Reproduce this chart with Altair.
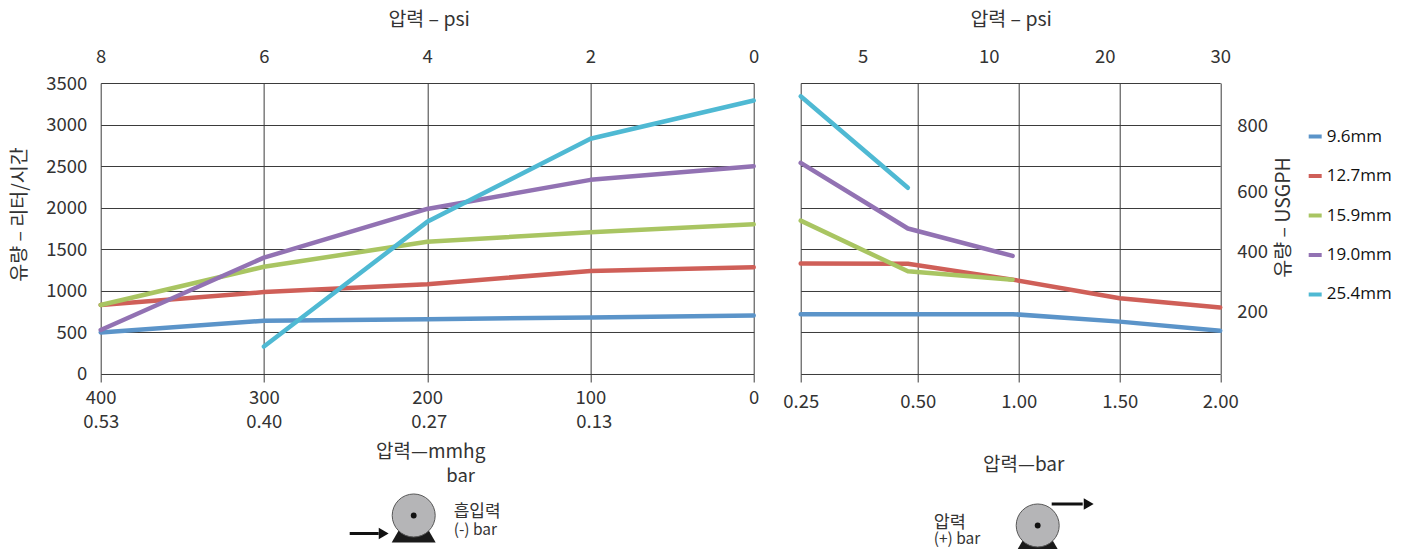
import altair as alt
import pandas as pd

FONT = "Noto Sans CJK KR"
LEG_FONT = "Open Sans"
INK = "#333333"
GRID = "#3a3a3a"

series = ["9.6mm", "12.7mm", "15.9mm", "19.0mm", "25.4mm"]
colors = ["#5b94c9", "#cf5f58", "#a9c562", "#9272b3", "#4fb9d3"]

# left panel: vacuum (mmHg) vs flow (litres/hour)
mmhg = [400, 300, 200, 100, 0]
left_flow = {
    "9.6mm": [500, 640, 660, 680, 705],
    "12.7mm": [830, 985, 1080, 1240, 1285],
    "15.9mm": [830, 1290, 1590, 1705, 1800],
    "19.0mm": [530, 1400, 1985, 2335, 2500],
    "25.4mm": [None, 330, 1830, 2830, 3290],
}
# right panel: pressure (bar) vs flow
bar_pts = [0.25, 0.479, 0.97, 1.5, 2.0]
right_flow = {
    "9.6mm": [720, 720, 720, 630, 520],
    "12.7mm": [1330, 1325, 1135, 910, 800],
    "15.9mm": [1845, 1235, 1135, None, None],
    "19.0mm": [2540, 1750, 1420, None, None],
    "25.4mm": [3340, 2240, None, None, None],
}

psi_left = [8, 6, 4, 2, 0]
bar_left = [0.53, 0.40, 0.27, 0.13]
bar_left_domain = [0.53, 0.40, 0.27, 0.13, 0]
bar_left_range = [0, 163, 328, 493, 653]
mmhg_ticks = [400, 300, 200, 100, 0]
y_ticks = [0, 500, 1000, 1500, 2000, 2500, 3000, 3500]

bar_ticks = [0.25, 0.5, 1.0, 1.5, 2.0]
bar_range = [0, 117, 218, 319, 419.5]
psi_right = [5, 10, 20, 30]
psi_right_range = [62, 188, 304, 419.5]
gph = [200, 400, 600, 800]
gph_range = [228.5, 168.5, 108.5, 42]

W_L, W_R, H = 653, 420, 291


def long(xs, table):
    rows = []
    for s in series:
        for x, v in zip(xs, table[s]):
            if v is not None:
                rows.append({"x": x, "flow": v, "size": s})
    return pd.DataFrame(rows)


def one():
    return alt.Data(values=[{}])


def txt(s, x, y, size=19, align="center"):
    return alt.Chart(one()).mark_text(
        text=s, font=FONT, fontSize=size, align=align, baseline="middle", color=INK
    ).encode(x=alt.value(x), y=alt.value(y))


def pump(cx, cy, ax0, ax1, ay, head):
    base = alt.Chart(one()).mark_point(
        shape="triangle-up", filled=True, color="#1a1a1a", size=1936, opacity=1
    ).encode(x=alt.value(cx), y=alt.value(cy + 8))
    wheel = alt.Chart(one()).mark_point(
        shape="circle", filled=True, fill="#b5b5b7", stroke="#555555",
        strokeWidth=1, size=1849, opacity=1
    ).encode(x=alt.value(cx), y=alt.value(cy))
    dot = alt.Chart(one()).mark_point(
        shape="circle", filled=True, color="#111111", size=34, opacity=1
    ).encode(x=alt.value(cx), y=alt.value(cy))
    shaft = alt.Chart(one()).mark_rule(color="#111111", strokeWidth=3).encode(
        x=alt.value(ax0), x2=alt.value(ax1), y=alt.value(ay)
    )
    tip = alt.Chart(one()).mark_point(
        shape="triangle-right", filled=True, color="#111111", size=130, opacity=1
    ).encode(x=alt.value(head), y=alt.value(ay))
    return [base, wheel, dot, shaft, tip]


left_grid_color = {"condition": {"test": "datum.value === 200 || datum.value === 400 || datum.value === 0", "value": GRID}, "value": "#858585"}
left_grid_width = {"condition": {"test": "datum.value === 200 || datum.value === 400 || datum.value === 0", "value": 1}, "value": 1.6}

left_main = alt.Chart(long(mmhg, left_flow)).mark_line(strokeWidth=4.5, strokeCap="round", strokeJoin="round", clip=False).encode(
    x=alt.X("x:Q", scale=alt.Scale(domain=[400, 0], nice=False),
            axis=alt.Axis(orient="bottom", values=mmhg_ticks, title=None, grid=True, gridColor=left_grid_color,
                          gridWidth=left_grid_width, domain=False, ticks=True, tickSize=8, tickColor=GRID,
                          labelPadding=7, labelFlush=False, labelOverlap=False, format="d")),
    y=alt.Y("flow:Q", scale=alt.Scale(domain=[0, 3500], nice=False),
            axis=alt.Axis(values=y_ticks, title="유량 – 리터/시간", titleX=-71, titleY=131, grid=True, gridColor=GRID,
                          domain=False, ticks=False, labelPadding=14, format="d", labelOverlap=False)),
    color=alt.Color("size:N", scale=alt.Scale(domain=series, range=colors), legend=None),
    order=alt.Order("x:Q"),
)
left_psi = alt.Chart(pd.DataFrame({"psi": psi_left})).mark_point(opacity=0).encode(
    x=alt.X("psi:Q", scale=alt.Scale(domain=[8, 0], nice=False),
            axis=alt.Axis(orient="top", values=psi_left, title="압력 – psi", titleX=328, titleY=-54, grid=False, domain=False,
                          ticks=False, labelPadding=17, labelFlush=False, labelOverlap=False, format="d")),
    y=alt.value(0),
)
left_bar = alt.Chart(pd.DataFrame({"bar": bar_left})).mark_point(opacity=0).encode(
    x=alt.X("bar:Q", scale=alt.Scale(domain=bar_left_domain, range=bar_left_range),
            axis=alt.Axis(orient="bottom", values=bar_left, title=None, grid=False, domain=False, ticks=False,
                          labelPadding=39, labelFlush=False, labelOverlap=False, format=".2f")),
    y=alt.value(0),
)
left = alt.layer(
    left_main, left_psi, left_bar,
    txt("압력—mmhg", 330, 369), txt("bar", 360, 393, 18.5),
    *pump(313, 432.5, 249, 278, 450.5, 283),
    txt("흡입력", 353, 429, 17, "left"), txt("(-) bar", 353, 447, 15.5, "left"),
).resolve_scale(x="independent").properties(width=W_L, height=H)

right_main = alt.Chart(long(bar_pts, right_flow)).mark_line(strokeWidth=4.5, strokeCap="round", strokeJoin="round", clip=False).encode(
    x=alt.X("x:Q", scale=alt.Scale(domain=bar_ticks, range=bar_range),
            axis=alt.Axis(orient="bottom", values=bar_ticks, title=None, grid=True, gridColor=GRID, domain=False,
                          ticks=True, tickSize=8, tickColor=GRID, labelPadding=10.5, labelFlush=False,
                          labelOverlap=False, format=".2f")),
    y=alt.Y("flow:Q", scale=alt.Scale(domain=[0, 3500], nice=False),
            axis=alt.Axis(values=y_ticks, title=None, labels=False, grid=True, gridColor=GRID, domain=False, ticks=False)),
    color=alt.Color("size:N", scale=alt.Scale(domain=series, range=colors),
                    legend=alt.Legend(title=None, orient="none", legendX=506, legendY=45, symbolType="stroke",
                                      symbolStrokeWidth=4, symbolSize=169, rowPadding=21.5, labelFont=LEG_FONT,
                                      labelFontSize=17, labelColor="#111111", labelOffset=3,
                                      symbolOpacity=1)),
    order=alt.Order("x:Q"),
)
right_psi = alt.Chart(pd.DataFrame({"psi": psi_right})).mark_point(opacity=0).encode(
    x=alt.X("psi:Q", scale=alt.Scale(domain=psi_right, range=psi_right_range),
            axis=alt.Axis(orient="top", values=psi_right, title="압력 – psi", titleX=210, titleY=-54, grid=False, domain=False,
                          ticks=False, labelPadding=17, labelFlush=False, labelOverlap=False, format="d")),
    y=alt.value(0),
)
right_gph = alt.Chart(pd.DataFrame({"gph": gph})).mark_point(opacity=0).encode(
    x=alt.value(0),
    y=alt.Y("gph:Q", scale=alt.Scale(domain=gph, range=gph_range),
            axis=alt.Axis(orient="right", values=gph, title="유량 – USGPH", titleAngle=270, titleX=73, titleY=134,
                          grid=False, domain=False, ticks=False, labelPadding=16, labelOverlap=False, format="d")),
)
right = alt.layer(
    right_main, right_psi, right_gph,
    txt("압력—bar", 223, 382.5),
    *pump(237, 442.5, 251, 282, 421, 288),
    txt("압력", 133, 440.5, 17.5, "left"), txt("(+) bar", 133, 456.5, 15.5, "left"),
).resolve_scale(x="independent", y="independent").properties(width=W_R, height=H)

chart = (
    alt.hconcat(left, right, spacing=47, bounds="flush")
    .resolve_legend(color="independent")
    .properties(padding={"left": 0.7, "top": 1, "right": 0, "bottom": -4})
    .configure_view(stroke=None)
    .configure_axis(labelFont=FONT, titleFont=FONT, labelFontSize=18.5, titleFontSize=19.5,
                    labelColor=INK, titleColor=INK, titleFontWeight="normal", labelFontWeight="normal")
)
chart.save("out.html", embed_options={"renderer": "svg", "actions": False})
